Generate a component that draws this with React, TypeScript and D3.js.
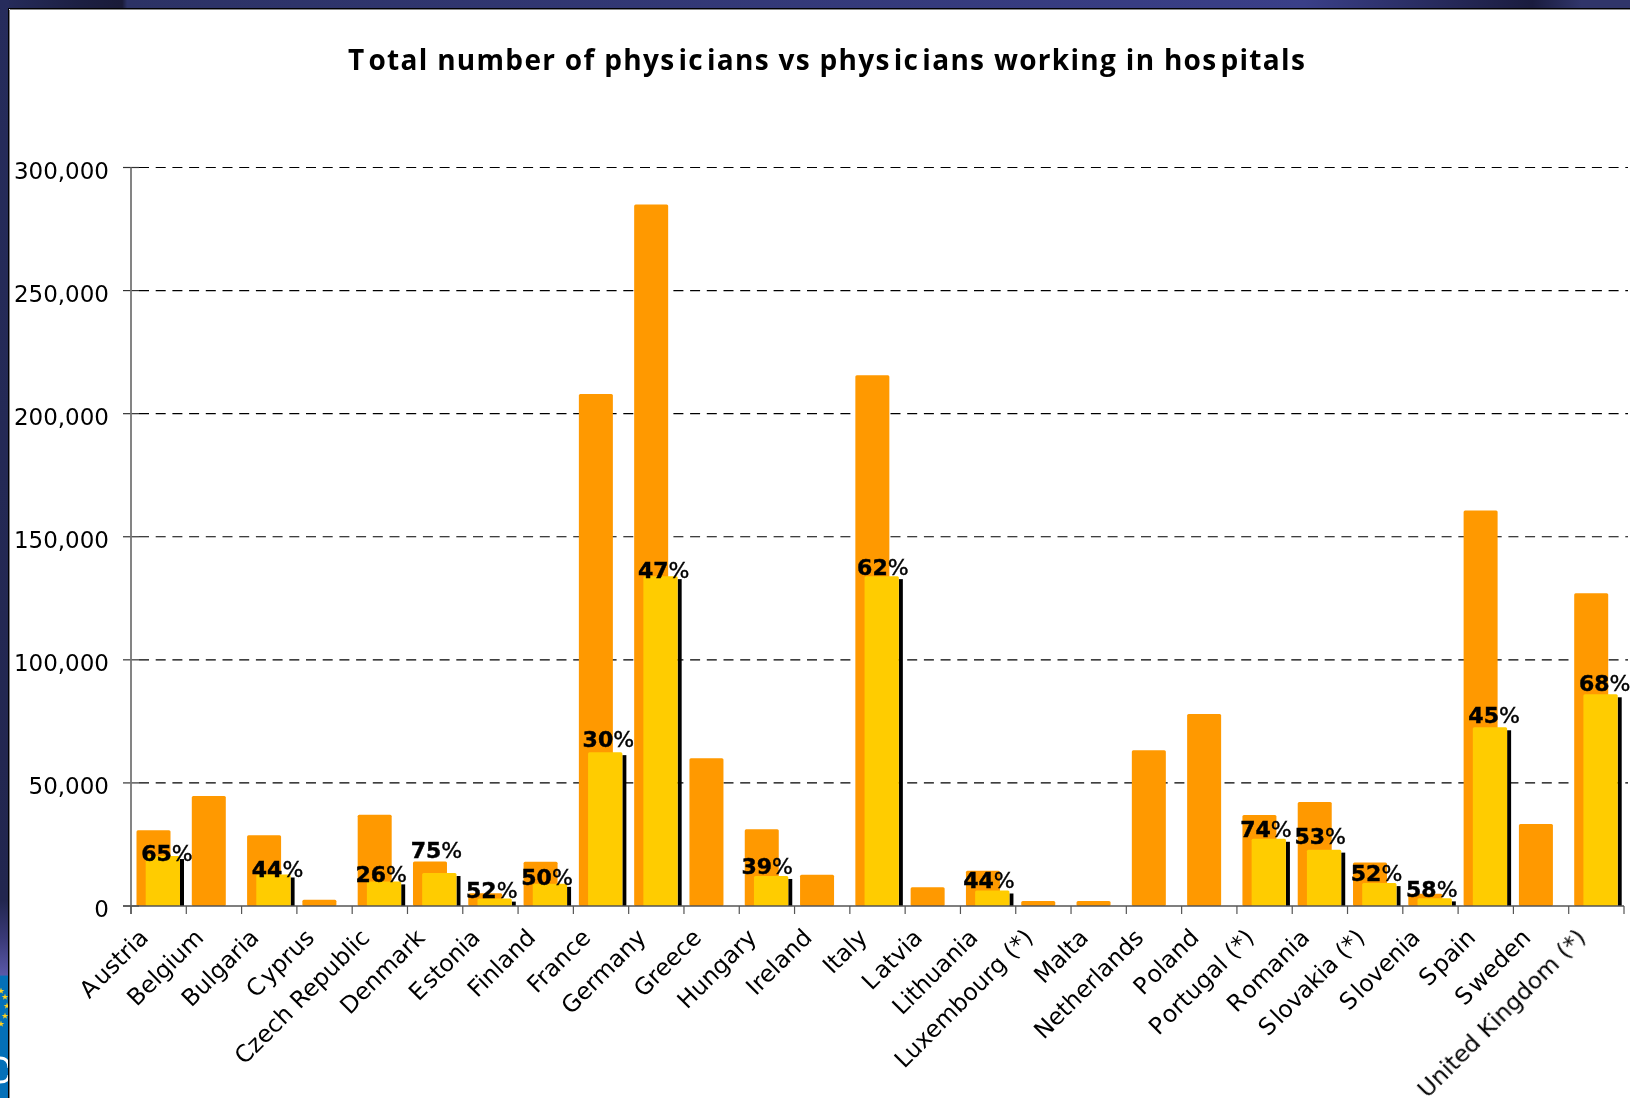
import React from "react";
import * as d3 from "d3";

const categories = ["Austria","Belgium","Bulgaria","Cyprus","Czech Republic","Denmark","Estonia","Finland","France","Germany","Greece","Hungary","Ireland","Italy","Latvia","Lithuania","Luxembourg (*)","Malta","Netherlands","Poland","Portugal (*)","Romania","Slovakia (*)","Slovenia","Spain","Sweden","United Kingdom (*)"];
const totalPhysicians = [30800,44700,28700,2500,37100,18100,5200,18000,208000,285000,60000,31200,12700,215600,7600,14300,2000,2000,63300,78000,37000,42200,17700,5000,160700,33300,127000];
const hospitalPhysicians = [20300,null,12800,null,10000,13400,3000,9000,62500,134000,null,12200,null,134000,null,6300,null,null,null,null,27300,22900,9300,3100,72600,null,86000];
const shareLabels = ["65%",null,"44%",null,"26%","75%","52%","50%","30%","47%",null,"39%",null,"62%",null,"44%",null,null,null,null,"74%","53%","52%","58%","45%",null,"68%"];
const yTicks = [0,50000,100000,150000,200000,250000,300000];
const title = "Total number of physicians vs physicians working in hospitals";

// layout only: nudges of the hand-placed share labels [dx from tick, dy from yellow top]
const labelNudges: Record<number,[number,number]> = {0:[36,5],2:[36,3],4:[29,1],5:[29,-15],6:[29,-1],7:[29,1],8:[35,-5],9:[35,2],11:[28,-2],13:[33,-1],15:[28.5,-2],20:[29,-2],21:[28,-6],22:[29,-2],23:[29,-1],24:[36,-4],26:[36,-3]};
const gapAfterFirst = new Set(["Austria","Cyprus","Estonia","Latvia","Poland","Portugal (*)","Romania","Slovakia (*)","Slovenia","Spain","Sweden"]);
const stars: [number,number][] = [[1,991],[5,997],[7,1006],[5,1016],[1,1024]];

const W = 1630, H = 1098;
const x = d3.scaleBand<string>().domain(categories).range([131,1624]);
const y = d3.scaleLinear().domain([0,300000]).range([906,167.5]);
const fmt = d3.format(",");
const FONT = "'DejaVu Sans'";
const titleDx = Array.from(title).map((_, i) => {
  const p = title.indexOf("physicians");
  const q = title.indexOf("physicians", p + 1);
  const h = title.indexOf("hospitals");
  return [1, p + 4, p + 6, q + 4, q + 6, h + 3].includes(i) ? 3 : 0;
}).join(" ");
const star = d3.symbol().type(d3.symbolStar).size(14);

export default function App() {
  const bw = x.bandwidth();
  return (
    <svg width={W} height={H} viewBox={`0 0 ${W} ${H}`} style={{position:"absolute",left:0,top:0,display:"block"}}>
      <defs>
        <linearGradient id="topG" x1="0" x2="1" y1="0" y2="0">
          <stop offset="0" stopColor="#262c5c"/><stop offset="0.05" stopColor="#1c1f42"/>
          <stop offset="0.075" stopColor="#1a1b38"/><stop offset="0.078" stopColor="#2c3265"/>
          <stop offset="0.8" stopColor="#3a3f88"/><stop offset="0.94" stopColor="#1a1c3e"/>
          <stop offset="0.97" stopColor="#30356a"/><stop offset="1" stopColor="#30356a"/>
        </linearGradient>
        <linearGradient id="leftG" x1="0" x2="0" y1="0" y2="1">
          <stop offset="0" stopColor="#262c5c"/><stop offset="0.82" stopColor="#22264f"/>
          <stop offset="0.855" stopColor="#3a3a78"/><stop offset="0.888" stopColor="#5a58a8"/>
          <stop offset="0.889" stopColor="#0470b8"/><stop offset="1" stopColor="#0470b8"/>
        </linearGradient>
        <filter id="soft" x="-2%" y="-2%" width="104%" height="104%"><feGaussianBlur stdDeviation="0.35"/></filter>
      </defs>
      <rect width={W} height={H} fill="#fff"/>
      <rect width={W} height={9} fill="url(#topG)"/>
      <rect width={9} height={H} fill="url(#leftG)"/>
      {stars.map(([sx,sy],i) => <path key={i} d={star()!} transform={`translate(${sx},${sy})`} fill="#ffd21f"/>)}
      <path d="M0 1058C6 1058 9 1062 9 1068M9 1075C9 1080 5 1082 0 1082" stroke="#fff" strokeWidth={3} fill="none"/>
      <rect x={8.5} y={8.5} width={W} height={H} fill="#fff" stroke="#000" strokeWidth={1}/>
      <path d="M10 9.5H1630M9.5 10V1098" stroke="#888" strokeWidth={1} fill="none"/>
      {yTicks.filter(t => t > 0).map(t => (
        <line key={t} x1={139} x2={1628} y1={y(t)} y2={y(t)} stroke="#000" strokeWidth={1.2} strokeDasharray="10 6.7"/>
      ))}
      {categories.map((c,i) => (
        <rect key={c} x={x(c)!+5.5} y={y(totalPhysicians[i])} width={34} height={y(0)-y(totalPhysicians[i])} rx={1.5} fill="#ff9900"/>
      ))}
      {categories.map((c,i) => {
        const v = hospitalPhysicians[i];
        if (v == null) return null;
        return (
          <g key={c}>
            <rect x={x(c)!+49} y={y(v)+3} width={4} height={y(0)-y(v)-3} fill="#000"/>
            <rect x={x(c)!+14.7} y={y(v)} width={34.3} height={y(0)-y(v)} rx={1.5} fill="#ffcc00"/>
          </g>
        );
      })}
      {yTicks.map(t => <line key={t} x1={123} x2={139} y1={y(t)} y2={y(t)} stroke="#333" strokeWidth={1.2}/>)}
      <line x1={131} x2={131} y1={167.5} y2={914} stroke="#777" strokeWidth={1.8}/>
      <line x1={123} x2={1624} y1={906} y2={906} stroke="#555" strokeWidth={1.4}/>
      {categories.concat("").map((c,i) => {
        const tx = 131 + i*bw;
        return <line key={i} x1={tx} x2={tx} y1={906} y2={914} stroke="#555" strokeWidth={1.2}/>;
      })}
      <g filter="url(#soft)">
        <text x={827} y={70} textAnchor="middle" fontFamily="'Open Sans'" fontWeight={700} fontSize={28} letterSpacing={1.3} dx={titleDx} fill="#000">{title}</text>
        {yTicks.map(t => (
          <text key={t} x={109} y={y(t)+11} textAnchor="end" fontFamily={FONT} fontSize={23} fill="#000">{fmt(t)}</text>
        ))}
        {categories.map((c,i) => {
          const cx = x(c)!+bw/2-9;
          const ay = 939;
          return (
            <text key={c} transform={`translate(${cx},${ay}) rotate(-45)`} textAnchor="end" fontFamily={FONT} fontSize={23.5} fill="#000" dx={gapAfterFirst.has(c)?"0 2.5":undefined}>{c}</text>
          );
        })}
        {categories.map((c,i) => {
          const s = shareLabels[i], v = hospitalPhysicians[i];
          if (!s || v == null) return null;
          const [dx,dy] = labelNudges[i];
          return (
            <text key={c} x={x(c)!+dx} y={y(v)+dy} textAnchor="middle" fontFamily={FONT} fontSize={22} fill="#000" stroke="#000" strokeWidth={0.45}>
              <tspan fontWeight={700}>{s.replace("%","")}</tspan><tspan>%</tspan>
            </text>
          );
        })}
      </g>
    </svg>
  );
}
